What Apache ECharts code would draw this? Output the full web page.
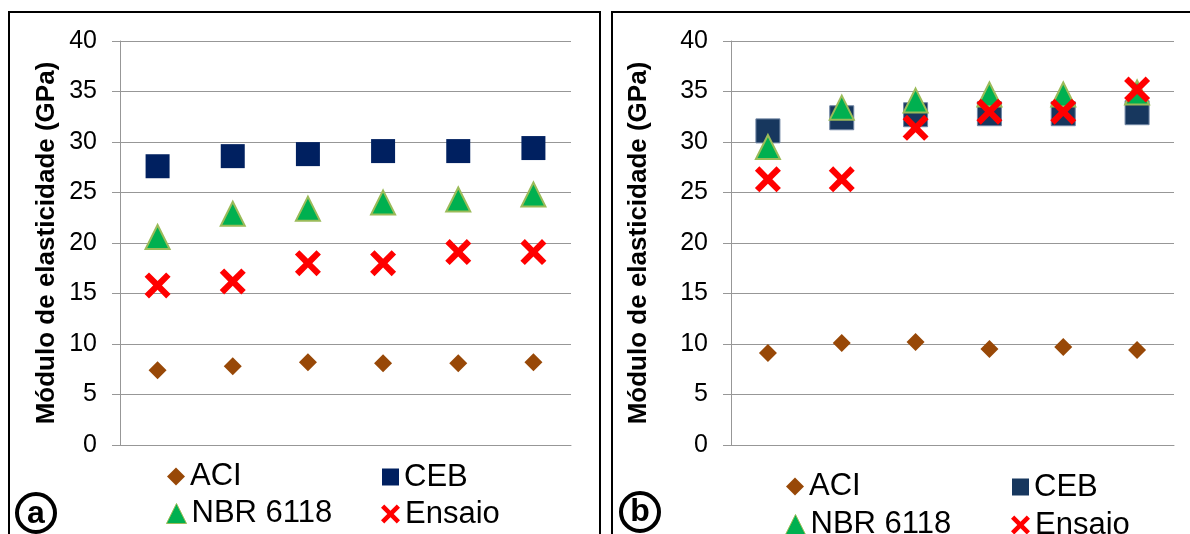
<!DOCTYPE html>
<html>
<head>
<meta charset="utf-8">
<script src="https://cdn.jsdelivr.net/npm/echarts@6/dist/echarts.min.js"></script>
<style>
html,body{margin:0;padding:0;background:#fff;}
#c{width:1190px;height:534px;}
</style>
</head>
<body>
<div id="c"></div>
<script>
// ---- data ----
const categories = ['1', '2', '3', '4', '5', '6'];
const seriesNames = ['ACI', 'CEB', 'NBR 6118', 'Ensaio'];
const yTicks = [0, 5, 10, 15, 20, 25, 30, 35, 40];
const yAxisTitle = 'Módulo de elasticidade (GPa)';

// panel (a)
const aACI    = [7.4, 7.8, 8.2, 8.1, 8.1, 8.2];
const aCEB    = [27.6, 28.6, 28.8, 29.1, 29.1, 29.4];
const aNBR    = [20.6, 22.9, 23.4, 24.0, 24.3, 24.8];
const aEnsaio = [15.8, 16.2, 18.0, 18.0, 19.1, 19.1];

// panel (b)
const bACI    = [9.1, 10.1, 10.2, 9.5, 9.7, 9.4];
const bCEB    = [31.1, 32.4, 32.7, 32.8, 32.8, 32.9];
const bNBR    = [29.5, 33.4, 34.1, 34.7, 34.7, 34.9];
const bEnsaio = [26.3, 26.3, 31.4, 33.0, 33.0, 35.2];

// ---- styles ----
const FONT = '"Liberation Sans", Arial, sans-serif';
const GRIDC = '#979797';
const CROSS = 'path://M0,1.7 L1.7,0 L5,3.3 L8.3,0 L10,1.7 L6.7,5 L10,8.3 L8.3,10 L5,6.7 L1.7,10 L0,8.3 L3.3,5 Z';
const C_ACI = '#984807';
const C_CEB_A = '#002060';
const C_CEB_B = '#17375E';
const C_NBR = '#00B050';
const C_NBR_B = '#9BBB59';
const C_ENS = '#FF0000';

function yAxis(gridIndex, nameGap) {
  return {
    type: 'value', gridIndex, min: yTicks[0], max: yTicks[yTicks.length - 1], interval: 5,
    name: yAxisTitle, nameLocation: 'middle', nameGap,
    nameTextStyle: { fontFamily: FONT, fontSize: 26, fontWeight: 'bold', color: '#000' },
    axisLine: { show: true, lineStyle: { color: GRIDC, width: 1 } },
    axisTick: { show: true, length: 8, lineStyle: { color: GRIDC, width: 1 } },
    axisLabel: { fontFamily: FONT, fontSize: 25, color: '#000', margin: 23 },
    splitLine: { show: true, lineStyle: { color: GRIDC, width: 1 } }
  };
}
function xAxis(gridIndex) {
  return {
    type: 'category', gridIndex, data: categories, boundaryGap: true,
    axisLine: { show: true, lineStyle: { color: GRIDC, width: 1 } },
    axisTick: { show: false }, axisLabel: { show: false }, splitLine: { show: false }
  };
}
function scatter(name, data, idx, symbol, size, itemStyle) {
  return { type: 'scatter', name, data, xAxisIndex: idx, yAxisIndex: idx,
           symbol, symbolSize: size, itemStyle, silent: true };
}
function legendItem(name, left, centerY, icon, w, h, itemStyle) {
  return {
    data: [{ name, icon, itemStyle }], left, top: centerY - h / 2,
    itemWidth: w, itemHeight: h, itemGap: 0, selectedMode: false, orient: 'horizontal',
    textStyle: { fontFamily: FONT, fontSize: 31, color: '#000' },
    padding: 0
  };
}

const chart = echarts.init(document.getElementById('c'), null, { renderer: 'canvas' });
const option = {
  animation: false,
  backgroundColor: '#fff',
  grid: [
    { left: 120, right: 1190 - 571, top: 41, bottom: 534 - 445 },
    { left: 731, right: 1190 - 1174, top: 41, bottom: 534 - 445 }
  ],
  xAxis: [xAxis(0), xAxis(1)],
  yAxis: [yAxis(0, 60), yAxis(1, 79)],
  legend: [
    legendItem(seriesNames[0], 167, 470, 'diamond', 18, 18, { color: C_ACI }),
    legendItem(seriesNames[1], 382, 470, 'rect', 17, 17, { color: C_CEB_A }),
    legendItem(seriesNames[2], 166, 508, 'triangle', 20, 20, { color: C_NBR, borderColor: C_NBR_B, borderWidth: 1 }),
    legendItem(seriesNames[3], 381, 508, CROSS, 19, 19, { color: C_ENS }),
    legendItem(seriesNames[0], 786, 480, 'diamond', 18, 18, { color: C_ACI }),
    legendItem(seriesNames[1], 1012, 480, 'rect', 17, 17, { color: C_CEB_B }),
    legendItem(seriesNames[2], 785, 519, 'triangle', 20, 20, { color: C_NBR, borderColor: C_NBR_B, borderWidth: 1 }),
    legendItem(seriesNames[3], 1011, 519, CROSS, 19, 19, { color: C_ENS })
  ],
  series: [
    scatter(seriesNames[0], aACI, 0, 'diamond', 18, { color: C_ACI, opacity: 1 }),
    scatter(seriesNames[1], aCEB, 0, 'rect', 24, { color: C_CEB_A, opacity: 1 }),
    scatter(seriesNames[2], aNBR, 0, 'triangle', 24, { color: C_NBR, borderColor: C_NBR_B, borderWidth: 2, opacity: 1 }),
    scatter(seriesNames[3], aEnsaio, 0, CROSS, 26, { color: C_ENS, opacity: 1 }),
    scatter(seriesNames[0], bACI, 1, 'diamond', 18, { color: C_ACI, opacity: 1 }),
    scatter(seriesNames[1], bCEB, 1, 'rect', 24, { color: C_CEB_B, borderColor: '#6F84A3', borderWidth: 1, opacity: 1 }),
    scatter(seriesNames[2], bNBR, 1, 'triangle', 24, { color: C_NBR, borderColor: C_NBR_B, borderWidth: 2, opacity: 1 }),
    scatter(seriesNames[3], bEnsaio, 1, CROSS, 26, { color: C_ENS, opacity: 1 })
  ],
  graphic: [
    { type: 'rect', shape: { x: 9, y: 12, width: 591, height: 540 }, style: { fill: 'none', stroke: '#000', lineWidth: 2 }, silent: true, z: 10 },
    { type: 'rect', shape: { x: 612, y: 12, width: 600, height: 540 }, style: { fill: 'none', stroke: '#000', lineWidth: 2 }, silent: true, z: 10 },
    { type: 'circle', shape: { cx: 36, cy: 513, r: 19 }, style: { fill: 'none', stroke: '#000', lineWidth: 4 }, silent: true, z: 10 },
    { type: 'text', x: 36, y: 514, style: { text: 'a', font: 'bold 32px ' + FONT, fill: '#000', align: 'center', verticalAlign: 'middle' }, silent: true, z: 10 },
    { type: 'circle', shape: { cx: 640, cy: 512, r: 19 }, style: { fill: 'none', stroke: '#000', lineWidth: 4 }, silent: true, z: 10 },
    { type: 'text', x: 640, y: 512, style: { text: 'b', font: 'bold 32px ' + FONT, fill: '#000', align: 'center', verticalAlign: 'middle' }, silent: true, z: 10 }
  ]
};
chart.setOption(option);
</script>
</body>
</html>
